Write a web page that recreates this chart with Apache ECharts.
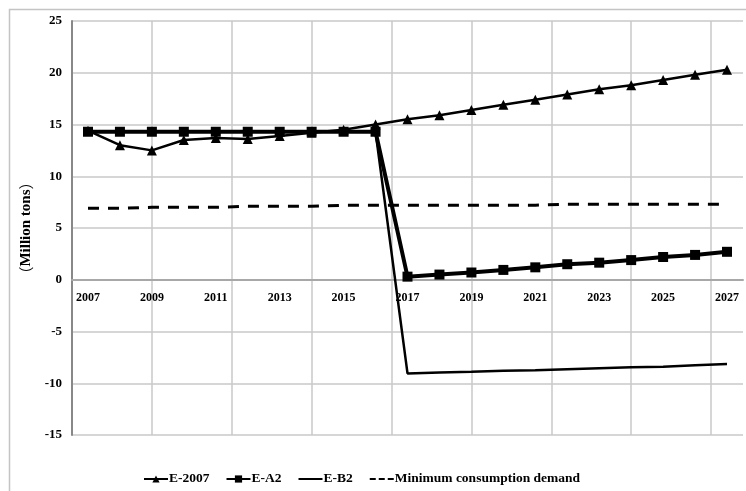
<!DOCTYPE html>
<html>
<head>
<meta charset="utf-8">
<script src="https://cdn.jsdelivr.net/npm/echarts@6/dist/echarts.min.js"></script>
<style>
  html, body { margin: 0; padding: 0; background: #fff; }
  #chart { width: 746px; height: 491px; }
</style>
</head>
<body>
<div id="chart"></div>
<script>
// Years on the horizontal axis
const years = ['2007','2008','2009','2010','2011','2012','2013','2014','2015','2016','2017',
               '2018','2019','2020','2021','2022','2023','2024','2025','2026','2027'];

// Supply scenarios (million tons)
const e2007 = [14.4, 13.0, 12.5, 13.5, 13.7, 13.6, 13.9, 14.2, 14.5, 15.0, 15.5,
               15.9, 16.4, 16.9, 17.4, 17.9, 18.4, 18.8, 19.3, 19.8, 20.3];
const eA2   = [14.3, 14.3, 14.3, 14.3, 14.3, 14.3, 14.3, 14.3, 14.3, 14.3, 0.3,
               0.5, 0.7, 0.95, 1.2, 1.5, 1.65, 1.9, 2.2, 2.4, 2.7];
const eB2   = [14.3, 14.3, 14.3, 14.3, 14.3, 14.3, 14.3, 14.3, 14.3, 14.3, -9.05,
               -8.95, -8.9, -8.8, -8.75, -8.65, -8.55, -8.45, -8.4, -8.25, -8.15];
const minDemand = [6.9, 6.9, 7.0, 7.0, 7.0, 7.1, 7.1, 7.1, 7.2, 7.2, 7.2,
                   7.2, 7.2, 7.2, 7.2, 7.3, 7.3, 7.3, 7.3, 7.3, 7.3];

// Value axis range (million tons)
const yMin = -15, yMax = 25, yStep = 5;

const serif = '"Liberation Serif", "Times New Roman", serif';
const cjk = '"Noto Sans CJK SC", sans-serif';
const gridColor = '#c8c8c8';
const chartHeight = 491;
const plotRect = { left: 72, right: 3, top: 21, bottom: 56, containLabel: false };

// The year axis runs along the zero line rather than the bottom of the plot
const plotHeight = chartHeight - plotRect.top - plotRect.bottom;
const yearAxisOffset = -plotHeight * (0 - yMin) / (yMax - yMin);

const chart = echarts.init(document.getElementById('chart'), null, { renderer: 'canvas' });

chart.setOption({
  animation: false,
  backgroundColor: '#ffffff',
  graphic: [{
    type: 'rect',
    shape: { x: 9.5, y: 9.5, width: 760, height: 520 },
    style: { fill: 'none', stroke: '#c4c4c4', lineWidth: 1.5 },
    silent: true,
    z: -10
  }],
  grid: plotRect,
  legend: {
    bottom: 0,
    left: 138,
    itemWidth: 24,
    itemHeight: 9,
    itemGap: 16,
    data: [
      { name: 'E-2007' },
      { name: 'E-A2' },
      { name: 'E-B2', itemStyle: { opacity: 0 } },
      { name: 'Minimum consumption demand', itemStyle: { opacity: 0 }, lineStyle: { type: [6, 3] } }
    ],
    textStyle: { fontFamily: serif, fontWeight: 'bold', fontSize: 13.5, color: '#000', padding: [0, 0, 0, -4] }
  },
  xAxis: [{
    type: 'category',
    data: years,
    boundaryGap: true,
    position: 'bottom',
    offset: yearAxisOffset,
    axisLine: { onZero: false, lineStyle: { color: '#a8a8a8', width: 2 } },
    axisTick: { show: false },
    axisLabel: {
      interval: 1,
      margin: 12,
      fontFamily: serif, fontWeight: 'bold', fontSize: 12, color: '#000'
    },
    splitLine: { show: false }
  }, {
    // vertical gridlines every 2.5 years, offset half a year from the categories
    type: 'value',
    position: 'top',
    min: 0, max: 21, interval: 2.5,
    axisLine: { show: false, onZero: false },
    axisTick: { show: false },
    axisLabel: { show: false },
    splitLine: { show: true, showMaxLine: false, lineStyle: { color: gridColor, width: 1.5 } }
  }],
  yAxis: {
    type: 'value',
    min: yMin, max: yMax, interval: yStep,
    name: '{p|（}Million tons{p|）}',
    nameLocation: 'middle',
    nameGap: 35,
    nameRotate: 90,
    nameTextStyle: {
      fontFamily: serif, fontWeight: 'bold', fontSize: 15, color: '#000',
      rich: { p: { fontFamily: cjk, fontWeight: 'normal', fontSize: 15, color: '#000' } }
    },
    axisLine: { show: true, onZero: false, lineStyle: { color: '#888', width: 2 } },
    axisTick: { show: false },
    axisLabel: { margin: 10, fontFamily: serif, fontWeight: 'bold', fontSize: 13, color: '#000' },
    splitLine: { show: true, lineStyle: { color: gridColor, width: 1.5 } }
  },
  series: [{
    name: 'E-B2',
    type: 'line',
    data: eB2,
    showSymbol: false,
    symbol: 'none',
    lineStyle: { color: '#000', width: 2.5 },
    itemStyle: { color: '#000' },
    z: 3
  }, {
    name: 'E-2007',
    type: 'line',
    data: e2007,
    symbol: 'triangle',
    symbolSize: 10,
    lineStyle: { color: '#000', width: 2.5 },
    itemStyle: { color: '#000' },
    z: 4
  }, {
    name: 'E-A2',
    type: 'line',
    data: eA2,
    symbol: 'rect',
    symbolSize: 10,
    lineStyle: { color: '#000', width: 4 },
    itemStyle: { color: '#000' },
    z: 5
  }, {
    name: 'Minimum consumption demand',
    type: 'line',
    data: minDemand,
    symbol: 'none',
    lineStyle: { color: '#000', width: 3, type: [11, 9] },
    itemStyle: { color: '#000' },
    z: 3
  }]
});
</script>
</body>
</html>
